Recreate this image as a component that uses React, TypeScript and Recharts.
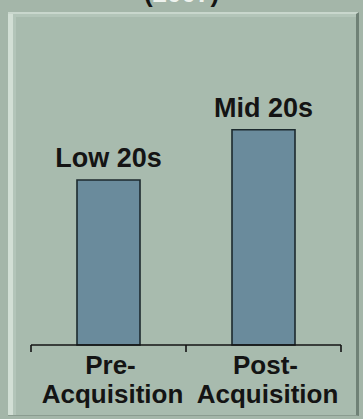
import React from 'react';
import { BarChart, Bar, XAxis, YAxis, LabelList } from 'recharts';

const categoryTop = ['Pre-', 'Post-'];
const categoryBottom = ['Acquisition', 'Acquisition'];
const values = [23, 30];
const valueLabels = ['Low 20s', 'Mid 20s'];
const titleText = ['(', '2007', ')'];

const data = categoryTop.map((c, i) => ({
  name: c + '\n' + categoryBottom[i],
  value: values[i],
  label: valueLabels[i],
}));

const FONT = '"Liberation Sans", Arial, Helvetica, sans-serif';
const INK = '#141414';

const CategoryTick = (props: any) => {
  const { x, y, payload, index, visibleTicksCount } = props;
  const half = payload && payload.offset ? payload.offset : 0;
  const lines = String(payload.value).split('\n');
  const last = index === (visibleTicksCount ?? 2) - 1;
  return (
    <g>
      <line x1={x - half} y1={y} x2={x - half} y2={y + 7} stroke={INK} strokeWidth={1.6} />
      {last && <line x1={x + half} y1={y} x2={x + half} y2={y + 7} stroke={INK} strokeWidth={1.6} />}
      <text x={x + 2} y={y + 29} textAnchor="middle" fontFamily={FONT} fontWeight="bold" fontSize={26} fill={INK}>
        {lines[0]}
      </text>
      <text x={x + 4} y={y + 58} textAnchor="middle" fontFamily={FONT} fontWeight="bold" fontSize={26} fill={INK}>
        {lines[1]}
      </text>
    </g>
  );
};

export default function App() {
  return (
    <div style={{ position: 'fixed', left: 0, top: 0, width: 363, height: 419, background: '#a4b6a9', overflow: 'hidden' }}>
      {/* clipped title */}
      <div style={{ position: 'absolute', left: 0, width: 363, top: -22, textAlign: 'center', fontFamily: FONT, fontWeight: 'bold', fontSize: 26, lineHeight: '30px' }}>
        <span style={{ color: INK }}>{titleText[0]}</span>
        <span style={{ color: '#eef2ee' }}>{titleText[1]}</span>
        <span style={{ color: INK }}>{titleText[2]}</span>
      </div>
      {/* panel */}
      <div style={{ position: 'absolute', left: 8, top: 12, width: 351, height: 404, background: '#b3c5b9', borderTop: '2px solid #c9d7cd', borderRight: '3px solid #6f8176', borderBottom: '1px solid #8a9c90', boxSizing: 'border-box' }}>
        <div style={{ position: 'absolute', left: 0, top: 0, width: 5, height: '100%', background: '#d2dfd5' }} />
        <div style={{ position: 'absolute', left: 8, top: 3, right: 0, bottom: 0, background: '#a8bbae' }} />
      </div>
      <div style={{ position: 'absolute', left: 0, top: 0 }}>
        <BarChart width={363} height={419} data={data} margin={{ top: 58, right: 22, bottom: 0, left: 31 }}>
          <YAxis hide domain={[0, 40]} />
          <XAxis
            dataKey="name"
            height={74}
            interval={0}
            tickSize={0}
            tickMargin={0}
            tickLine={false}
            axisLine={{ stroke: INK, strokeWidth: 1.6 }}
            tick={<CategoryTick />}
          />
          <Bar dataKey="value" barSize={63} fill="#6a8b9c" stroke="#1c2a2e" strokeWidth={1.6} isAnimationActive={false}>
            <LabelList dataKey="label" position="top" offset={13} fill={INK} fontFamily={FONT} fontWeight="bold" fontSize={27} />
          </Bar>
        </BarChart>
      </div>
    </div>
  );
}
